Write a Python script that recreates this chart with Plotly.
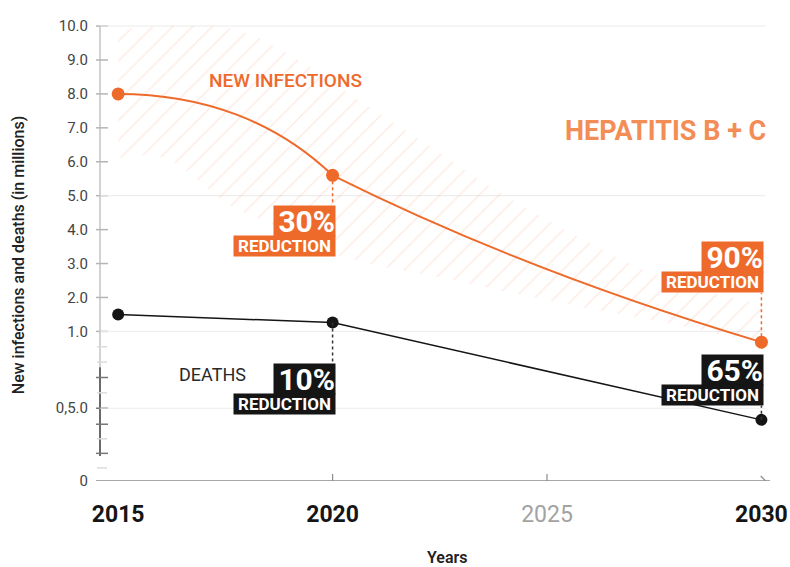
import numpy as np
import plotly.graph_objects as go

# ---------------- data ----------------
YEARS = [2015, 2020, 2030]
NEW_INFECTIONS = [8.0, 5.6, 0.93]          # millions
DEATHS = [1.5, 1.26, 0.42]                 # millions
INF_REDUCTION = {2020: "30%", 2030: "90%"}
DEATH_REDUCTION = {2020: "10%", 2030: "65%"}

BAND_UPPER_YEARS = [2015, 2017.7, 2019.2, 2020.6, 2022.5, 2023.9, 2025.5, 2027.15, 2028.55, 2030]
BAND_UPPER = [9.9, 9.9, 9.0, 7.82, 6.26, 5.09, 3.94, 2.88, 2.24, 1.8]
BAND_LOWER_YEARS = [2015, 2016.07, 2017.66, 2018.69, 2020.09, 2022.72, 2025.29, 2027.62, 2030]
BAND_LOWER = [6.12, 6.12, 4.68, 4.09, 3.26, 2.53, 1.85, 1.29, 0.92]

Y_TICK_VALS = [10, 9, 8, 7, 6, 5, 4, 3, 2, 1, 0.5, 0]
Y_TICK_TEXT = ["10.0", "9.0", "8.0", "7.0", "6.0", "5.0", "4.0", "3.0", "2.0", "1.0", "0,5.0", "0"]
X_TICK_VALS = [2015, 2020, 2025, 2030]
X_TICK_TEXT = ["<b>2015</b>", "<b>2020</b>", "<span style='color:#a3a3a3'>2025</span>", "<b>2030</b>"]
GRID_VALS = [10, 5, 1, 0.5]
BREAK_FAINT_TICKS = [0.9, 0.8, 0.6, 0.29, 0.09]
BREAK_DARK_TICKS = [0.7, 0.5, 0.39, 0.19]

# broken (piecewise-linear) value axis
AXIS_BREAK_VALUES = [0, 0.5, 1, 10]
AXIS_BREAK_POS = [-3.41, -1.265, 1, 10]


def ax(v):
    return np.interp(v, AXIS_BREAK_VALUES, AXIS_BREAK_POS)


ORANGE = "#ee6a2b"
BLACK = "#151515"
FONT = "Roboto"

X_RANGE = [2014.53, 2030.2]
Y_RANGE = [AXIS_BREAK_POS[0], 10.12]

fig = go.Figure()

# hatched band
fig.add_trace(go.Scatter(x=BAND_LOWER_YEARS, y=ax(BAND_LOWER), mode="lines",
                         line=dict(width=0, shape="spline"), hoverinfo="skip",
                         showlegend=False))
fig.add_trace(go.Scatter(x=BAND_UPPER_YEARS, y=ax(BAND_UPPER), mode="lines",
                         line=dict(width=0, shape="spline"), fill="tonexty",
                         fillcolor="rgba(0,0,0,0)",
                         fillpattern=dict(shape="/", size=14, solidity=0.09,
                                          fgcolor="rgba(242,120,70,0.33)",
                                          bgcolor="rgba(0,0,0,0)"),
                         hoverinfo="skip", showlegend=False))

# deaths line
fig.add_trace(go.Scatter(x=YEARS, y=ax(DEATHS), mode="lines+markers",
                         line=dict(color=BLACK, width=1.5),
                         marker=dict(color=BLACK, size=12), showlegend=False))

# new infections markers (curve drawn as smooth path below)
fig.add_trace(go.Scatter(x=YEARS, y=ax(NEW_INFECTIONS), mode="markers",
                         marker=dict(color=ORANGE, size=13), showlegend=False))


def seg_path(x0, y0, x1, y1, s0, s1, h0, h1):
    c1x, c1y = x0 + h0, y0 + s0 * h0
    c2x, c2y = x1 - h1, y1 - s1 * h1
    return f"M{x0},{y0} C{c1x},{c1y} {c2x},{c2y} {x1},{y1}"


ni = ax(NEW_INFECTIONS)
path = seg_path(YEARS[0], ni[0], YEARS[1], ni[1], 0.0, -1.21, 2.0, 1.3) + " " + \
    seg_path(YEARS[1], ni[1], YEARS[2], ni[2], -0.63, -0.378, 3.3, 3.3)

shapes = []
shapes.append(dict(type="path", path=path, xref="x", yref="y",
                   line=dict(color=ORANGE, width=2), layer="above"))

# gridlines
for g in GRID_VALS:
    shapes.append(dict(type="line", xref="x", yref="y", x0=X_RANGE[0] + 0.05, x1=2030.1,
                       y0=float(ax(g)), y1=float(ax(g)),
                       line=dict(color="#ebebeb", width=1), layer="below"))

# y axis line (light part + dark break segment)
shapes.append(dict(type="line", xref="paper", yref="y", xsizemode="pixel", xanchor=0,
                   x0=2, x1=2, y0=float(ax(10)), y1=float(ax(0.766)),
                   line=dict(color="#d2d2d2", width=2), layer="below"))
shapes.append(dict(type="line", xref="paper", yref="y", xsizemode="pixel", xanchor=0,
                   x0=2, x1=2, y0=float(ax(0.766)), y1=float(ax(0.171)),
                   line=dict(color="#6a6a6a", width=2), layer="below"))
for v in Y_TICK_VALS[:-2]:
    shapes.append(dict(type="line", xref="paper", yref="y", xsizemode="pixel", xanchor=0,
                       x0=-2, x1=10, y0=float(ax(v)), y1=float(ax(v)),
                       line=dict(color="#b5b5b5", width=1.5), layer="below"))
for v in BREAK_FAINT_TICKS:
    shapes.append(dict(type="line", xref="paper", yref="y", xsizemode="pixel", xanchor=0,
                       x0=-1, x1=9, y0=float(ax(v)), y1=float(ax(v)),
                       line=dict(color="#dcdcdc", width=1.5), layer="below"))
for v in BREAK_DARK_TICKS:
    shapes.append(dict(type="line", xref="paper", yref="y", xsizemode="pixel", xanchor=0,
                       x0=-2, x1=10, y0=float(ax(v)), y1=float(ax(v)),
                       line=dict(color="#777777", width=1.5), layer="below"))

# x axis line with arrow
y0p = float(ax(0))
shapes.append(dict(type="line", xref="paper", yref="y", x0=-0.003, x1=1, y0=y0p, y1=y0p,
                   line=dict(color="#8a8a8a", width=1.5), layer="below"))
shapes.append(dict(type="line", xref="x", yref="y", xsizemode="pixel", ysizemode="pixel",
                   xanchor=2030.1, yanchor=y0p, x0=-5, x1=0, y0=5, y1=0,
                   line=dict(color="#8a8a8a", width=1.2)))
shapes.append(dict(type="line", xref="x", yref="y", xsizemode="pixel", ysizemode="pixel",
                   xanchor=2030.1, yanchor=y0p, x0=-5, x1=0, y0=-5, y1=0,
                   line=dict(color="#8a8a8a", width=1.2)))
for xv in X_TICK_VALS[1:3]:
    shapes.append(dict(type="line", xref="x", yref="y", ysizemode="pixel", yanchor=y0p,
                       x0=xv, x1=xv, y0=-7, y1=7,
                       line=dict(color="#8a8a8a", width=1.2)))

# dotted connectors (pixel offsets from data points)
CONNECTORS = [
    (2020, NEW_INFECTIONS[1], -30, ORANGE),
    (2030, NEW_INFECTIONS[2], 49, ORANGE),
    (2020, DEATHS[1], -40, "#333333"),
    (2030, DEATHS[2], 14, "#333333"),
]
for xv, v, off, col in CONNECTORS:
    shapes.append(dict(type="line", xref="x", yref="y", ysizemode="pixel",
                       yanchor=float(ax(v)), x0=xv, x1=xv, y0=0, y1=off,
                       line=dict(color=col, width=1.5, dash="dot")))

annotations = []


def reduction_label(year, value, pct, color, below, pct_shift, red_shift):
    yv = float(ax(value))
    anchor = "top" if below else "bottom"
    annotations.append(dict(x=year, y=yv, xref="x", yref="y", text=f"<b>{pct}</b>",
                            showarrow=False, xanchor="right", yanchor=anchor,
                            xshift=3, yshift=pct_shift, width=61, height=30,
                            borderpad=0, bgcolor=color, align="right",
                            font=dict(family=FONT, size=30, color="white")))
    annotations.append(dict(x=year, y=yv, xref="x", yref="y", text="<b>REDUCTION</b>",
                            showarrow=False, xanchor="right", yanchor=anchor,
                            xshift=3, yshift=red_shift, width=101, height=20,
                            borderpad=0, bgcolor=color, align="center",
                            font=dict(family=FONT, size=17, color="white")))


reduction_label(2020, NEW_INFECTIONS[1], INF_REDUCTION[2020], ORANGE, True, -30, -60)
reduction_label(2030, NEW_INFECTIONS[2], INF_REDUCTION[2030], ORANGE, False, 69, 49)
reduction_label(2020, DEATHS[1], DEATH_REDUCTION[2020], BLACK, True, -40, -70)
reduction_label(2030, DEATHS[2], DEATH_REDUCTION[2030], BLACK, False, 34, 14)

annotations += [
    dict(x=2018.9, y=float(ax(8.4)), xref="x", yref="y", text="NEW INFECTIONS",
         showarrow=False, font=dict(family=FONT, size=19, color=ORANGE, weight=500)),
    dict(x=2030.15, y=float(ax(6.9)), xref="x", yref="y", text="<b>HEPATITIS B + C</b>",
         showarrow=False, xanchor="right",
         font=dict(family=FONT, size=27, color="#f38d56")),
    dict(x=2017.2, y=float(ax(0.72)), xref="x", yref="y", text="DEATHS",
         showarrow=False, font=dict(family=FONT, size=18, color="#2a2a2a")),
    dict(x=0, y=0.492, xref="paper", yref="paper", xshift=-80, xanchor="center",
         yanchor="middle",
         text="New infections and deaths (in millions)", textangle=-90,
         showarrow=False, font=dict(family=FONT, size=16, color="#222222", weight=500)),
    dict(x=2022.67, y=0, xref="x", yref="paper", yshift=-76, yanchor="middle",
         text="Years",
         showarrow=False, font=dict(family=FONT, size=16, color="#222222", weight=600)),
]

fig.update_layout(
    width=790, height=567,
    margin=dict(l=98, r=20, t=22, b=86, autoexpand=False),
    paper_bgcolor="white", plot_bgcolor="white",
    showlegend=False,
    shapes=shapes, annotations=annotations,
    xaxis=dict(range=X_RANGE, tickvals=X_TICK_VALS, ticktext=X_TICK_TEXT,
               showgrid=False, zeroline=False, showline=False, ticks="",
               ticklabelstandoff=17, automargin=False,
               tickfont=dict(family=FONT, size=23, color="#151515")),
    yaxis=dict(range=Y_RANGE, tickvals=[float(ax(v)) for v in Y_TICK_VALS],
               ticktext=Y_TICK_TEXT, showgrid=False, zeroline=False, showline=False,
               ticks="", ticklabelstandoff=9, automargin=False,
               tickfont=dict(family=FONT, size=15, color="#444444")),
)

# remove the default 8px page margin so the 790x567 figure fills the window exactly
fig.write_html("out.html", config={"displayModeBar": False},
               post_script="document.body.style.margin='0px';")
